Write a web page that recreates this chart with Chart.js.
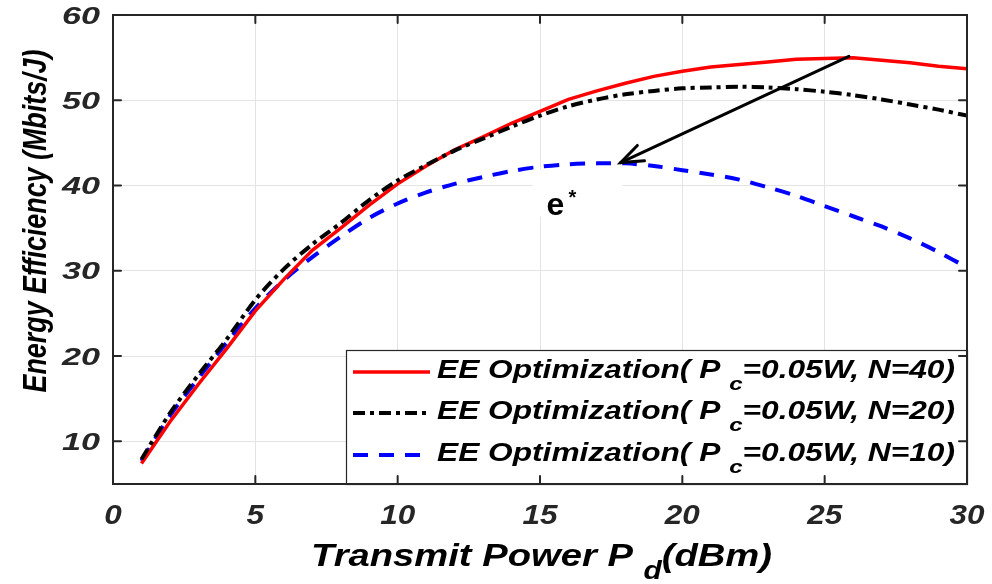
<!DOCTYPE html>
<html>
<head>
<meta charset="utf-8">
<script src="https://cdn.jsdelivr.net/npm/chart.js@4"></script>
<style>
html,body{margin:0;padding:0;background:#fff;}
#wrap{width:992px;height:584px;}
</style>
</head>
<body>
<div id="wrap"><canvas id="c" width="992" height="584"></canvas></div>
<script>
// ---- data ----
const xValues = [1,2,3,4,5,6,7,8,9,10,11,12,13,14,15,16,17,18,19,20,21,22,23,24,25,26,27,28,29,30];
const eeN40 = [7.4,12.3,16.7,20.9,25.3,29.0,32.4,35.0,37.7,40.2,42.3,44.2,45.7,47.3,48.7,50.1,51.1,52.0,52.8,53.4,53.9,54.2,54.5,54.8,54.9,55.0,54.7,54.4,54.0,53.7];
const eeN20 = [7.9,13.3,17.8,22.0,26.6,30.2,33.1,35.6,38.3,40.6,42.4,44.1,45.5,46.9,48.2,49.3,50.1,50.7,51.1,51.4,51.5,51.6,51.5,51.3,51.0,50.6,50.1,49.5,48.9,48.2];
const eeN10 = [7.7,13.0,17.4,21.6,25.6,28.9,31.6,34.0,36.2,37.9,39.2,40.2,41.0,41.7,42.2,42.5,42.6,42.6,42.3,41.8,41.3,40.7,39.8,38.8,37.6,36.4,35.2,33.8,32.2,30.4];
const xTicks = [0,5,10,15,20,25,30];
const yTicks = [10,20,30,40,50,60];
const seriesNames = ['N=40','N=20','N=10'];
const arrowFrom = [25.85, 55.15];
const arrowTo = [17.83, 42.69];
const eLabelAt = [15.65, 36.6];

const FONT = '"Liberation Sans", Arial, sans-serif';
const INK = '#262626';

function pts(ys){ return xValues.map((x,i)=>({x:x,y:ys[i]})); }

// draw text made of segments (with subscripts), horizontally fitted
function drawRich(ctx, segs, x, y, align, targetW){
  let nat = 0;
  const widths = segs.map(s=>{ ctx.font = s.font; const w = ctx.measureText(s.t).width; nat += w; return w; });
  const sx = targetW ? targetW/nat : 1;
  const total = nat*sx;
  let start = x;
  if(align==='center') start = x - total/2;
  else if(align==='right') start = x - total;
  ctx.save();
  ctx.translate(start, y);
  ctx.scale(sx, 1);
  let cx = 0;
  segs.forEach((s,i)=>{
    ctx.font = s.font;
    ctx.textAlign = 'left';
    ctx.textBaseline = 'alphabetic';
    ctx.fillText(s.t, cx, s.dy||0);
    cx += widths[i];
  });
  ctx.restore();
}

const decor = {
  id:'decor',
  afterDatasetsDraw(chart){
    const ctx = chart.ctx, a = chart.chartArea;
    const xs = chart.scales.x, ys = chart.scales.y;
    ctx.save();
    // arrow
    const x1 = xs.getPixelForValue(arrowFrom[0]), y1 = ys.getPixelForValue(arrowFrom[1]);
    const x2 = xs.getPixelForValue(arrowTo[0]), y2 = ys.getPixelForValue(arrowTo[1]);
    ctx.strokeStyle = '#000'; ctx.lineWidth = 3; ctx.lineCap='round';
    ctx.beginPath(); ctx.moveTo(x1,y1); ctx.lineTo(x2,y2); ctx.stroke();
    const ang = Math.atan2(y1-y2, x1-x2);
    const L = 24, wa = 0.36;
    ctx.beginPath();
    ctx.moveTo(x2 + L*Math.cos(ang+wa), y2 + L*Math.sin(ang+wa));
    ctx.lineTo(x2,y2);
    ctx.lineTo(x2 + L*Math.cos(ang-wa), y2 + L*Math.sin(ang-wa));
    ctx.stroke();
    // e* label with white box
    const ex = xs.getPixelForValue(eLabelAt[0]), ey = ys.getPixelForValue(eLabelAt[1]);
    ctx.fillStyle = '#fff';
    ctx.fillRect(ex-26, ey-45, 90, 47);
    ctx.fillStyle = '#000';
    ctx.font = 'bold 32px '+FONT; ctx.textAlign='left'; ctx.textBaseline='alphabetic';
    ctx.fillText('e', ex-12, ey);
    ctx.font = 'bold 20px '+FONT;
    ctx.fillText('*', ex+10, ey-11);

    // legend
    const lx = 346, ly = 350, lw = a.right - 346, lh = a.bottom - 350;
    ctx.fillStyle = '#fff'; ctx.fillRect(lx, ly, lw, lh);
    ctx.strokeStyle = INK; ctx.lineWidth = 1.2; ctx.setLineDash([]);
    ctx.strokeRect(lx+0.5, ly+0.5, lw, lh);
    const rows = [372, 413, 455];
    chart.data.datasets.forEach((ds,i)=>{
      const ry = rows[i];
      ctx.save();
      ctx.strokeStyle = ds.borderColor; ctx.lineWidth = ds.borderWidth;
      ctx.setLineDash(ds.borderDash||[]); ctx.lineCap='butt';
      ctx.beginPath(); ctx.moveTo(353, ry); ctx.lineTo(430, ry); ctx.stroke();
      ctx.restore();
      ctx.fillStyle = '#000';
      drawRich(ctx, [
        {t:'EE Optimization( P ', font:'italic bold 25px '+FONT},
        {t:'c', font:'italic bold 19px '+FONT, dy:12},
        {t:'=0.05W, '+seriesNames[i]+')', font:'italic bold 25px '+FONT}
      ], 437, ry+6, 'left', 518);
    });

    // frame
    ctx.strokeStyle = INK; ctx.lineWidth = 2; ctx.setLineDash([]);
    ctx.strokeRect(a.left, a.top, a.right-a.left, a.bottom-a.top);
    // inward ticks on all sides
    ctx.lineWidth = 2;
    const T = 8;
    ys.ticks.forEach(t=>{
      const py = ys.getPixelForValue(t.value);
      ctx.beginPath(); ctx.moveTo(a.left, py); ctx.lineTo(a.left+T, py);
      ctx.moveTo(a.right, py); ctx.lineTo(a.right-T, py); ctx.stroke();
    });
    xs.ticks.forEach(t=>{
      const px = xs.getPixelForValue(t.value);
      ctx.beginPath(); ctx.moveTo(px, a.bottom); ctx.lineTo(px, a.bottom-T);
      ctx.moveTo(px, a.top); ctx.lineTo(px, a.top+T); ctx.stroke();
    });

    // tick labels
    ctx.fillStyle = INK;
    ys.ticks.forEach(t=>{
      const py = ys.getPixelForValue(t.value);
      drawRich(ctx, [{t:String(t.value), font:'italic bold 23px '+FONT}], 100, py+8.5, 'right', String(t.value).length*19);
    });
    xs.ticks.forEach(t=>{
      const px = xs.getPixelForValue(t.value);
      const s = String(t.value);
      drawRich(ctx, [{t:s, font:'italic bold 28px '+FONT}], px, 524, 'center', s.length*17.5);
    });

    // axis titles
    ctx.fillStyle = '#000';
    drawRich(ctx, [
      {t:'Transmit Power P ', font:'italic bold 32px '+FONT},
      {t:'d', font:'italic bold 25px '+FONT, dy:13},
      {t:'(dBm)', font:'italic bold 32px '+FONT}
    ], 311, 566, 'left', 461);
    ctx.save();
    ctx.translate(46, 221);
    ctx.rotate(-Math.PI/2);
    drawRich(ctx, [{t:'Energy Efficiency (Mbits/J)', font:'italic bold 34px '+FONT}], 0, 0, 'center', 343);
    ctx.restore();
    ctx.restore();
  }
};

new Chart(document.getElementById('c'), {
  type:'line',
  data:{
    datasets:[
      {label:seriesNames[0], data:pts(eeN40), borderColor:'#ff0000', borderWidth:3.5, pointRadius:0, tension:0, fill:false, order:1},
      {label:seriesNames[1], data:pts(eeN20), borderColor:'#000000', borderWidth:4, borderDash:[12,5,4,5], pointRadius:0, tension:0.3, fill:false, order:0},
      {label:seriesNames[2], data:pts(eeN10), borderColor:'#0000ff', borderWidth:4, borderDash:[15,11], pointRadius:0, tension:0.3, fill:false, order:2}
    ]
  },
  options:{
    responsive:false, animation:false, devicePixelRatio:1,
    layout:{padding:{left:113, right:25, top:15, bottom:100}},
    plugins:{legend:{display:false}, tooltip:{enabled:false}},
    scales:{
      x:{type:'linear', min:0, max:30,
         afterBuildTicks:s=>{ s.ticks = xTicks.map(v=>({value:v})); },
         afterFit:s=>{ s.height = 0; },
         ticks:{display:false}, border:{display:false},
         grid:{color:'#e4e4e4', lineWidth:1, drawTicks:false}},
      y:{type:'linear', min:5, max:60,
         afterBuildTicks:s=>{ s.ticks = yTicks.map(v=>({value:v})); },
         afterFit:s=>{ s.width = 0; },
         ticks:{display:false}, border:{display:false},
         grid:{color:'#e4e4e4', lineWidth:1, drawTicks:false}}
    }
  },
  plugins:[decor]
});
</script>
</body>
</html>
